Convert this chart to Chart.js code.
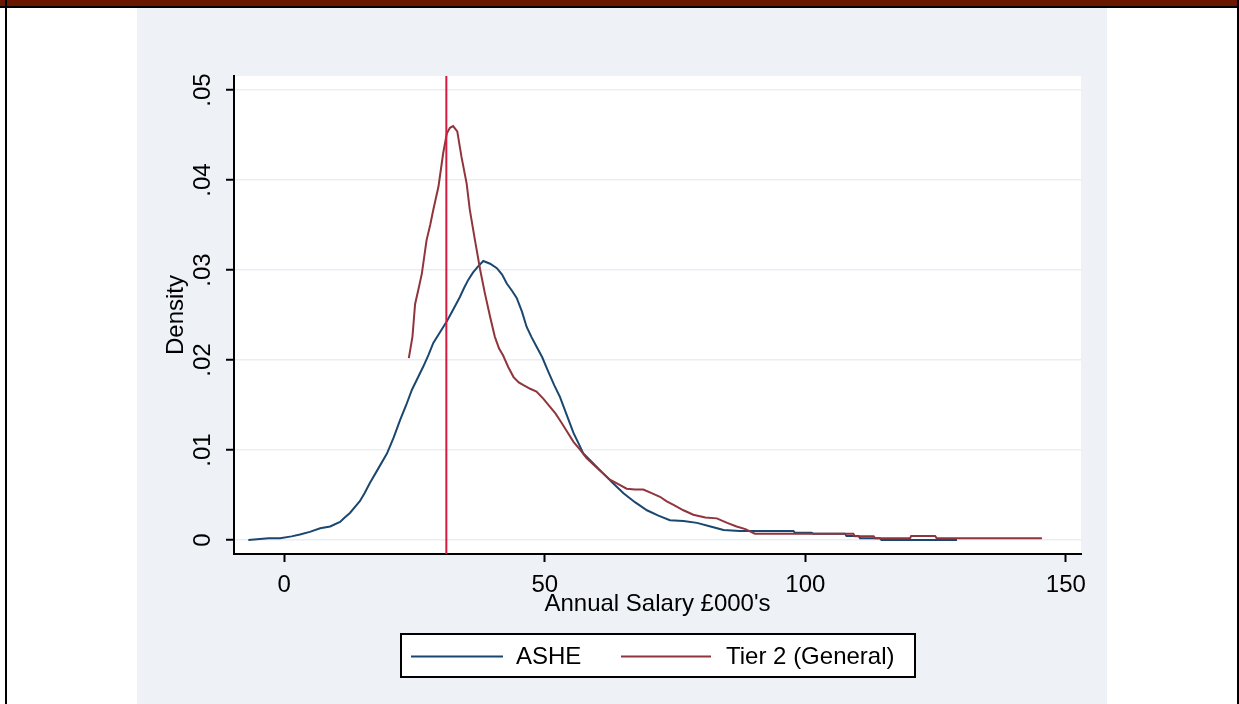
<!DOCTYPE html>
<html>
<head>
<meta charset="utf-8">
<title>Density of annual salary</title>
<script src="https://cdn.jsdelivr.net/npm/chart.js@4.4.1/dist/chart.umd.min.js"></script>
<style>
    body { margin:0; width:1239px; height:704px; overflow:hidden; position:relative; background:#fff; font-family:'Liberation Sans', Arial, sans-serif; }
    #topbar { position:absolute; left:0; top:0; width:1239px; height:6px; background:#6b1800; border-bottom:2px solid #000; }
    #lborder { position:absolute; left:5px; top:0; width:2px; height:704px; background:#000; }
    #rborder { position:absolute; left:1237px; top:0; width:2px; height:704px; background:#000; }
    #panel { position:absolute; left:137px; top:8px; width:970px; height:696px; background:#eef2f7; }
    #chart { position:absolute; left:0; top:0; }
</style>
</head>
<body>
<div id="panel"></div>
<div id="topbar"></div>
<div id="lborder"></div>
<div id="rborder"></div>
<canvas id="chart" width="1239" height="704"></canvas>
<script>
// ASHE kernel density (salary in £000's, density)
const asheX = [-6.9, -3.0, -0.8, 1.4, 3.0, 4.9, 6.9, 8.8, 10.7, 11.6, 12.6, 13.9, 14.5, 15.4, 16.4, 18.0, 19.7, 21.0, 22.2, 23.4, 24.5, 25.6, 26.7, 27.7, 28.6, 30.0, 31.2, 32.5, 33.7, 34.5, 35.3, 36.2, 37.2, 38.2, 39.5, 40.8, 41.8, 42.7, 43.7, 44.6, 45.6, 46.5, 47.4, 48.4, 49.5, 50.6, 51.8, 52.9, 54.2, 55.5, 56.5, 57.4, 59.3, 61.2, 63.1, 65.1, 67.3, 69.6, 71.8, 74.0, 76.6, 79.2, 81.8, 84.3, 87.4, 97.7, 98.0, 101.2, 101.5, 107.6, 107.9, 110.2, 110.5, 114.3, 114.6, 129.1];
const asheY = [0.0000, 0.0002, 0.0002, 0.0004, 0.0006, 0.0009, 0.0013, 0.0015, 0.0020, 0.0025, 0.0030, 0.0039, 0.0043, 0.0052, 0.0063, 0.0079, 0.0096, 0.0114, 0.0133, 0.0150, 0.0167, 0.0180, 0.0193, 0.0206, 0.0219, 0.0232, 0.0243, 0.0257, 0.0270, 0.0280, 0.0289, 0.0297, 0.0304, 0.0310, 0.0307, 0.0302, 0.0295, 0.0285, 0.0277, 0.0269, 0.0254, 0.0237, 0.0226, 0.0215, 0.0203, 0.0188, 0.0172, 0.0159, 0.0139, 0.0119, 0.0107, 0.0096, 0.0085, 0.0074, 0.0063, 0.0052, 0.0042, 0.0033, 0.0027, 0.0022, 0.0021, 0.0019, 0.0015, 0.0011, 0.0010, 0.0010, 0.0008, 0.0008, 0.0007, 0.0007, 0.00044, 0.00044, 0.0002, 0.0002, 0.0000, 0.0000];

// Tier 2 (General) kernel density
const tier2X = [23.9, 24.6, 25.1, 25.8, 26.4, 27.3, 28.0, 28.6, 29.6, 30.5, 31.2, 31.8, 32.4, 33.2, 34.0, 35.0, 35.6, 36.6, 37.6, 38.5, 39.5, 40.4, 41.2, 42.0, 43.0, 44.0, 45.0, 45.9, 47.2, 48.4, 49.7, 51.0, 52.0, 52.9, 54.2, 55.5, 56.8, 58.0, 60.2, 62.5, 64.1, 65.7, 67.3, 68.9, 70.5, 72.1, 73.4, 74.7, 76.6, 78.5, 80.8, 83.0, 85.0, 86.8, 88.5, 90.3, 109.2, 109.5, 113.1, 113.4, 120.1, 120.3, 124.9, 125.2, 145.4];
const tier2Y = [0.0202, 0.0226, 0.0262, 0.0280, 0.0296, 0.0333, 0.0350, 0.0367, 0.0393, 0.0430, 0.0452, 0.0458, 0.0460, 0.0454, 0.0426, 0.0396, 0.0367, 0.0333, 0.0300, 0.0274, 0.0248, 0.0226, 0.0213, 0.0205, 0.0192, 0.0181, 0.0175, 0.0172, 0.0168, 0.0165, 0.0157, 0.0148, 0.0141, 0.0133, 0.0121, 0.0109, 0.0100, 0.0091, 0.0079, 0.0067, 0.0062, 0.0057, 0.0056, 0.0056, 0.0052, 0.0048, 0.0043, 0.0039, 0.0033, 0.0028, 0.0025, 0.0024, 0.0019, 0.0015, 0.0012, 0.0007, 0.0007, 0.0004, 0.0004, 0.0002, 0.0002, 0.00044, 0.00044, 0.0002, 0.0002];

// vertical reference line (salary threshold)
const refLineX = 31.1;

const xTickValues = [0, 50, 100, 150];
const xTickLabels = ['0', '50', '100', '150'];
const yTickValues = [0, 0.01, 0.02, 0.03, 0.04, 0.05];
const yTickLabels = ['0', '.01', '.02', '.03', '.04', '.05'];

const seriesLabels = ['ASHE', 'Tier 2 (General)'];

const xMin = -9.65, xMax = 152.9;
const yMin = -0.00156, yMax = 0.05156;

const FONT = "'Liberation Sans', Arial, sans-serif";

function toPoints(xs, ys) { return xs.map((x, i) => ({ x: x, y: ys[i] })); }

const plotBg = {
    id: 'plotBg',
    beforeDraw(chart) {
        const { ctx, chartArea: a } = chart;
        ctx.save();
        ctx.fillStyle = '#fff';
        ctx.fillRect(a.left, a.top, a.right - a.left, a.bottom - a.top);
        ctx.restore();
    }
};

// y tick labels are rotated (read bottom to top) like the original
const yLabels = {
    id: 'yLabels',
    afterDraw(chart) {
        const { ctx } = chart;
        const ys = chart.scales.y;
        ctx.save();
        ctx.font = '24px ' + FONT;
        ctx.fillStyle = '#000';
        ctx.textAlign = 'center';
        ctx.textBaseline = 'middle';
        yTickValues.forEach((v, i) => {
            const py = ys.getPixelForValue(v);
            ctx.save();
            ctx.translate(ys.right - 31, py);
            ctx.rotate(-Math.PI / 2);
            ctx.fillText(yTickLabels[i], 0, 0);
            ctx.restore();
        });
        ctx.restore();
    }
};

const legendBox = {
    id: 'legendBox',
    afterDraw(chart) {
        const { ctx, chartArea: a } = chart;
        const w = 514, h = 43;
        const left = Math.round((a.left + a.right) / 2 - w / 2);
        const top = 634;
        const mid = top + h / 2 + 1;
        ctx.save();
        ctx.fillStyle = '#fff';
        ctx.fillRect(left, top, w, h);
        ctx.strokeStyle = '#000';
        ctx.lineWidth = 2;
        ctx.strokeRect(left, top, w, h);
        ctx.font = '24px ' + FONT;
        ctx.textBaseline = 'middle';
        ctx.fillStyle = '#000';
        const items = [[10, 102, 115], [220, 310, 325]];
        items.forEach((it, i) => {
            const ds = chart.data.datasets[i];
            ctx.strokeStyle = ds.borderColor;
            ctx.lineWidth = 2;
            ctx.beginPath();
            ctx.moveTo(left + it[0], mid);
            ctx.lineTo(left + it[1], mid);
            ctx.stroke();
            ctx.fillText(ds.label, left + it[2], mid + 1);
        });
        ctx.restore();
    }
};

new Chart(document.getElementById('chart'), {
    type: 'scatter',
    data: {
        datasets: [
            { label: seriesLabels[0], data: toPoints(asheX, asheY), showLine: true, borderColor: '#1a476f', borderWidth: 2, pointRadius: 0, tension: 0, order: 2 },
            { label: seriesLabels[1], data: toPoints(tier2X, tier2Y), showLine: true, borderColor: '#90353b', borderWidth: 2, pointRadius: 0, tension: 0, order: 1 },
            { label: 'ref', data: [{ x: refLineX, y: yMin }, { x: refLineX, y: yMax }], showLine: true, borderColor: '#d51a40', borderWidth: 2, pointRadius: 0, order: 0 }
        ]
    },
    options: {
        responsive: false,
        animation: false,
        devicePixelRatio: 1,
        layout: { padding: { left: 0, top: 76, right: 158, bottom: 0 } },
        plugins: { legend: { display: false }, tooltip: { enabled: false } },
        scales: {
            x: {
                type: 'linear', min: xMin, max: xMax,
                afterBuildTicks: s => { s.ticks = xTickValues.map(v => ({ value: v })); },
                afterFit: s => { s.height = 150; },
                ticks: { color: '#000', font: { family: FONT, size: 24 }, padding: 9, maxRotation: 0,
                    callback: v => xTickLabels[xTickValues.indexOf(v)] },
                grid: { drawOnChartArea: false, tickColor: '#000', tickLength: 8, tickWidth: 2 },
                border: { color: '#000', width: 2 },
                title: { display: true, text: "Annual Salary £000's", color: '#000', font: { family: FONT, size: 24 }, padding: { top: 0, bottom: 85 } }
            },
            y: {
                type: 'linear', min: yMin, max: yMax,
                afterBuildTicks: s => { s.ticks = yTickValues.map(v => ({ value: v })); },
                afterFit: s => { s.width = 234; },
                ticks: { display: false },
                grid: { color: '#e9eef4', lineWidth: 1.5, tickColor: '#000', tickLength: 8, tickWidth: 2 },
                border: { color: '#000', width: 2 },
                title: { display: true, text: 'Density', color: '#000', font: { family: FONT, size: 24 }, padding: { top: 162, bottom: 0 } }
            }
        }
    },
    plugins: [plotBg, yLabels, legendBox]
});
</script>
</body>
</html>
